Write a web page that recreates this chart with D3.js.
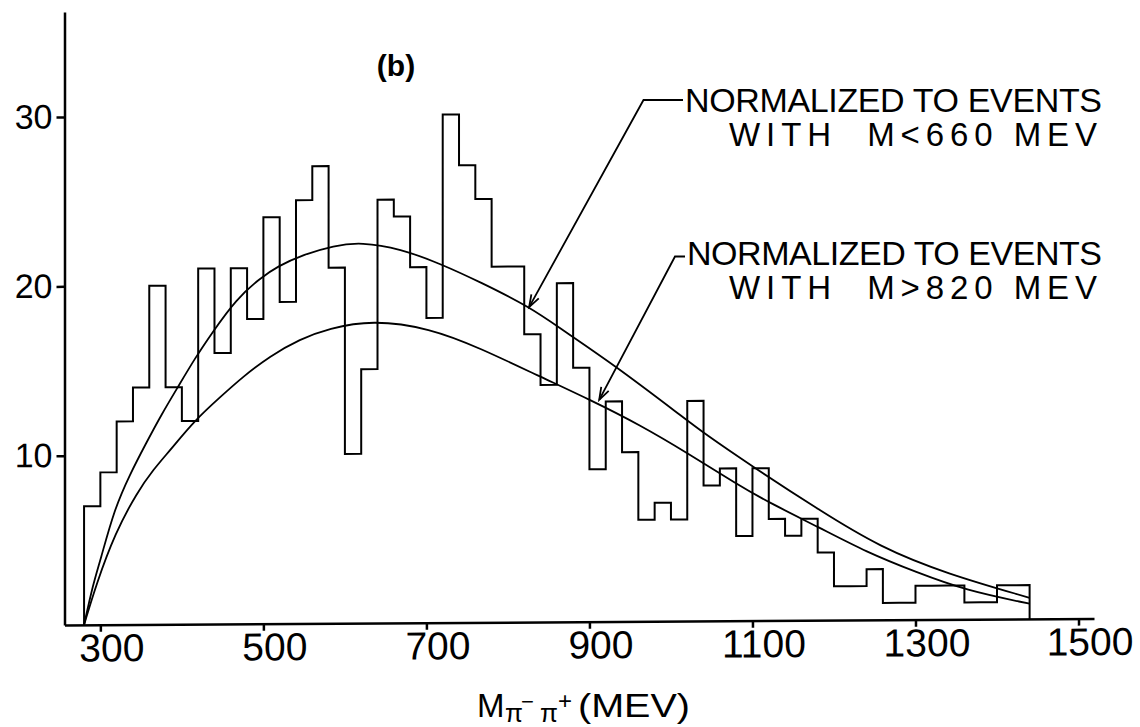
<!DOCTYPE html>
<html>
<head>
<meta charset="utf-8">
<script src="https://cdn.jsdelivr.net/npm/d3@7"></script>
<style>
  body { margin: 0; background: #fff; }
  text { font-family: "Liberation Sans", Arial, sans-serif; fill: #000; }
</style>
</head>
<body>
<svg id="chart" width="1140" height="727"></svg>
<script>
// pi- pi+ mass histogram, 20 MeV bins from 280 to 1440 MeV
const binStart = 280;
const binWidth = 20;
const counts = [
  7, 9, 12, 14, 20, 14, 12, 21, 16, 21,
  18, 24, 19, 25, 27, 21, 10, 15, 25, 24,
  21, 18, 30, 27, 25, 21, 21, 17, 14, 20,
  15, 9, 13, 10, 6, 7, 6, 13, 8, 9,
  5, 9, 6, 5, 6, 4, 2, 2, 3, 1,
  1, 2, 2, 2, 1, 1, 2, 2
];

// phase space curve normalized to events with M < 660 MeV  [MeV, events]
const curveBelow660 = [
  [280, 0], [291, 2.4], [300, 3.8], [317, 6.8], [336, 8.85], [356, 10.7],
  [375, 12.4], [395, 14.0], [416, 15.7], [437, 17.2], [467, 19.2], [496, 20.4],
  [517, 21.1], [550, 21.8], [586, 22.3], [620, 22.5], [668, 22.1], [717, 21.2],
  [766, 20.1], [827, 18.6], [868, 17.2], [929, 15.2], [1016, 12.0], [1040, 11.1],
  [1100, 9.1], [1182, 6.5], [1256, 4.3], [1338, 2.7], [1440, 1.25]
];

// phase space curve normalized to events with M > 820 MeV
const curveAbove820 = [
  [280, 0], [295, 2.4], [318, 5.4], [345, 7.8], [365, 9.15], [386, 10.3],
  [415, 12.0], [447, 13.4], [475, 14.6], [508, 15.8], [545, 16.8], [580, 17.4],
  [633, 17.9], [704, 17.4], [766, 16.2], [839, 14.5], [901, 13.1], [962, 11.6],
  [1021, 9.9], [1080, 8.1], [1119, 7.0], [1181, 5.5], [1240, 4.0], [1301, 2.8],
  [1362, 1.7], [1440, 0.9]
];

const xTicks = [300, 500, 700, 900, 1100, 1300, 1500];
const yTicks = [10, 20, 30];

const panelLabel = "(b)";
const noteBelow = ["NORMALIZED TO EVENTS", "WITH  M<660 MEV"];
const noteAbove = ["NORMALIZED TO EVENTS", "WITH  M>820 MEV"];

const svg = d3.select("#chart");

const x = d3.scaleLinear().domain([256, 1519]).range([64.5, 1094]);
const y = d3.scaleLinear().domain([0, 36.2]).range([625, 12]);

// the scanned figure is slightly skewed: the baseline rises to the right
const skew = -0.36;
const slope = Math.tan(skew * Math.PI / 180);
const x0 = x.range()[0];
function screen(mev, v) {
  const px = x(mev);
  return [px, y(v) + slope * (px - x0)];
}

const plot = svg.append("g")
  .attr("transform", `translate(${x0},0) skewY(${skew}) translate(${-x0},0)`);

// axes
const xAxis = d3.axisBottom(x)
  .tickValues(xTicks)
  .tickFormat(d3.format("d"))
  .tickSize(7)
  .tickSizeOuter(0);
const gx = plot.append("g")
  .attr("transform", `translate(0,${y(0)})`)
  .call(xAxis);
gx.selectAll("text")
  .attr("x", 11)
  .attr("y", 9)
  .attr("dy", "0.71em")
  .style("font-size", "39px");

const yAxis = d3.axisLeft(y).tickValues(yTicks).tickSize(8).tickSizeOuter(0);
const gy = plot.append("g")
  .attr("transform", `translate(${x0},0)`)
  .call(yAxis);
gy.selectAll("text")
  .attr("x", -12)
  .style("font-size", "34px");

plot.selectAll(".domain, .tick line")
  .attr("stroke", "#000")
  .attr("stroke-width", 2.5);

// histogram outline
const histPoints = [[binStart, 0]];
counts.forEach((c, i) => {
  histPoints.push([binStart + i * binWidth, c]);
  histPoints.push([binStart + (i + 1) * binWidth, c]);
});
histPoints.push([binStart + counts.length * binWidth, 0]);

const line = d3.line()
  .x((d) => x(d[0]))
  .y((d) => y(d[1]));

plot.append("path")
  .datum(histPoints)
  .attr("d", line)
  .attr("fill", "none")
  .attr("stroke", "#000")
  .attr("stroke-width", 2);

// smooth curves
const smooth = d3.line()
  .x((d) => x(d[0]))
  .y((d) => y(d[1]))
  .curve(d3.curveBasis);

[curveBelow660, curveAbove820].forEach((c) => {
  plot.append("path")
    .datum(c)
    .attr("d", smooth)
    .attr("fill", "none")
    .attr("stroke", "#000")
    .attr("stroke-width", 1.8);
});

// panel label
svg.append("text")
  .attr("x", 396)
  .attr("y", 76)
  .attr("text-anchor", "middle")
  .style("font-size", "30px")
  .style("font-weight", "bold")
  .text(panelLabel);

// notes with leaders and arrows
const notes = [
  { lines: noteBelow, x: 685, y: 111.5, lead: [683, 100, 643.5], tip: [826, 18.6] },
  { lines: noteAbove, x: 687, y: 265, lead: [685, 256.5, 675], tip: [912, 13.1] }
];

notes.forEach((n) => {
  svg.append("text")
    .attr("x", n.x)
    .attr("y", n.y)
    .attr("textLength", 1102 - n.x)
    .attr("lengthAdjust", "spacing")
    .style("font-size", "34px")
    .style("white-space", "pre")
    .text(n.lines[0]);
  svg.append("text")
    .attr("x", 729)
    .attr("y", n.y + 34)
    .attr("textLength", 368)
    .attr("lengthAdjust", "spacing")
    .style("font-size", "33px")
    .style("white-space", "pre")
    .text(n.lines[1]);

  const tip = screen(n.tip[0], n.tip[1]);
  const start = [n.lead[2], n.lead[1]];
  svg.append("polyline")
    .attr("points", [[n.lead[0], n.lead[1]], start, tip].map((p) => p.join(",")).join(" "))
    .attr("fill", "none")
    .attr("stroke", "#000")
    .attr("stroke-width", 1.8);

  // open arrow head
  const ang = Math.atan2(start[1] - tip[1], start[0] - tip[0]);
  const head = 13, spread = 0.33;
  const a = [tip[0] + head * Math.cos(ang - spread), tip[1] + head * Math.sin(ang - spread)];
  const b = [tip[0] + head * Math.cos(ang + spread), tip[1] + head * Math.sin(ang + spread)];
  svg.append("polyline")
    .attr("points", [a, tip, b].map((p) => p.join(",")).join(" "))
    .attr("fill", "none")
    .attr("stroke", "#000")
    .attr("stroke-width", 1.8);
});

// axis title M_{pi- pi+} (MEV)
const titleParts = [
  { t: "M", x: 477, dy: 0, size: 33 },
  { t: "π", x: 505, dy: 5, size: 26 },
  { t: "−", x: 521, dy: -8, size: 22 },
  { t: "π", x: 540, dy: 5, size: 26 },
  { t: "+", x: 558, dy: -8, size: 24 },
  { t: "(MEV)", x: 578, dy: 0, size: 33, len: 112 }
];
titleParts.forEach((p) => {
  const t = svg.append("text")
    .attr("x", p.x)
    .attr("y", 717 + p.dy)
    .style("font-size", p.size + "px")
    .text(p.t);
  if (p.len) t.attr("textLength", p.len).attr("lengthAdjust", "spacingAndGlyphs");
});
</script>
</body>
</html>
